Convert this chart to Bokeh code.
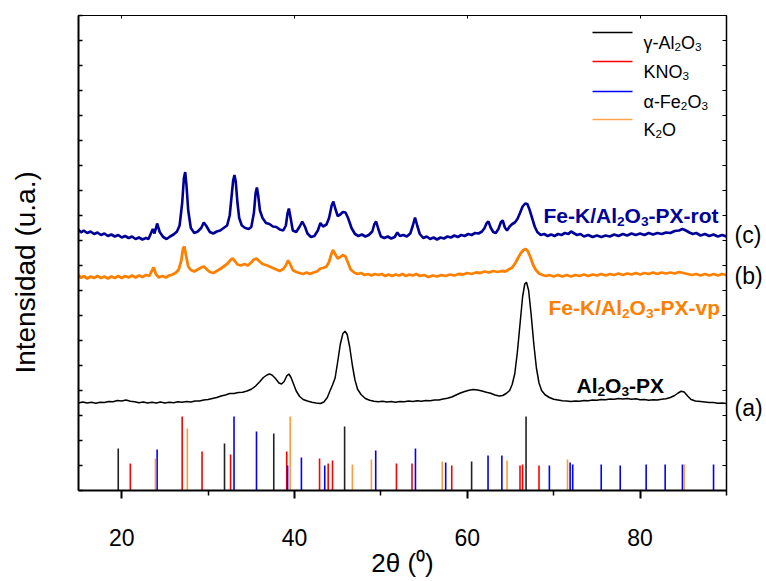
from bokeh.plotting import figure
from bokeh.models import Range1d, FixedTicker, LinearAxis, Label, CustomJSTickFormatter
from bokeh.embed import file_html
from bokeh.resources import INLINE

FONT = "Liberation Sans"

# ---------------- data ----------------
# (a) Al2O3-PX  (2theta, intensity a.u. offset)
curve_a = [(15.0,350),(15.5,354),(16.0,350),(16.5,353),(17.0,349),(17.5,353),(18.0,352),(18.5,356),(19.0,355),(19.5,360),(20.0,358),(20.5,362),(21.0,357),(21.5,355),(22.0,351),(22.5,354),(23.0,350),(23.5,353),(24.0,350),(24.5,354),(25.0,350),(25.5,353),(26.0,351),(26.5,355),(27.0,353),(27.5,356),(28.0,354),(28.5,358),(29.0,358),(29.5,362),(30.0,364),(30.5,368),(31.0,372),(31.5,378),(32.0,382),(32.5,388),(33.0,388),(33.5,392),(34.0,393),(34.5,398),(35.0,405),(35.5,418),(36.0,436),(36.4,452),(36.8,462),(37.1,466),(37.4,462),(37.8,448),(38.2,430),(38.5,426),(38.8,436),(39.1,458),(39.35,466),(39.6,452),(39.9,425),(40.2,398),(40.6,376),(41.0,364),(41.5,358),(42.0,353),(42.5,350),(43.0,348),(43.4,354),(43.8,372),(44.1,398),(44.4,422),(44.7,450),(45.0,515),(45.3,585),(45.6,628),(45.85,637),(46.1,624),(46.4,572),(46.7,500),(47.0,442),(47.3,405),(47.7,384),(48.2,368),(48.7,361),(49.2,357),(49.7,355),(50.2,357),(50.7,354),(51.2,356),(51.7,353),(52.2,356),(52.7,355),(53.2,358),(53.7,356),(54.2,359),(54.7,357),(55.2,360),(55.7,359),(56.2,362),(56.7,362),(57.2,366),(57.7,369),(58.2,374),(58.7,382),(59.2,390),(59.7,396),(60.2,401),(60.7,404),(61.2,402),(61.7,398),(62.2,393),(62.7,389),(63.2,382),(63.7,378),(64.1,380),(64.5,388),(64.9,400),(65.2,425),(65.5,468),(65.8,555),(66.1,665),(66.4,775),(66.65,826),(66.85,833),(67.1,800),(67.4,700),(67.7,585),(68.0,490),(68.3,430),(68.6,400),(69.0,383),(69.5,372),(70.0,365),(70.5,362),(71.0,359),(71.5,358),(72.0,356),(72.5,358),(73.0,357),(73.5,360),(74.0,359),(74.5,362),(75.0,361),(75.5,364),(76.0,363),(76.5,366),(77.0,365),(77.5,368),(78.0,366),(78.5,368),(79.0,365),(79.5,367),(80.0,363),(80.5,364),(81.0,361),(81.5,363),(82.0,362),(82.5,365),(83.0,367),(83.5,372),(84.0,380),(84.4,390),(84.75,397),(85.1,394),(85.5,378),(85.9,364),(86.4,358),(87.0,356),(87.5,354),(88.0,352),(88.5,352),(89.0,349),(89.5,350),(90.0,348)]

# (b) Fe-K/Al2O3-PX-vp
curve_b = [(15.0,862),(15.3,850),(15.6,858),(16.0,848),(16.4,856),(16.8,850),(17.2,858),(17.6,850),(18.0,856),(18.4,848),(18.8,856),(19.2,850),(19.6,858),(20.0,850),(20.4,858),(20.8,852),(21.2,860),(21.6,852),(22.0,860),(22.4,854),(22.8,862),(23.2,858),(23.45,876),(23.7,892),(23.95,866),(24.3,852),(24.7,858),(25.1,852),(25.5,860),(25.9,864),(26.3,872),(26.6,884),(26.9,920),(27.1,968),(27.25,976),(27.45,940),(27.7,896),(28.0,882),(28.4,876),(28.8,884),(29.2,892),(29.5,896),(29.8,886),(30.2,874),(30.6,870),(31.0,878),(31.4,886),(31.8,896),(32.2,906),(32.6,922),(32.85,928),(33.1,918),(33.4,904),(33.8,900),(34.2,906),(34.6,900),(35.0,912),(35.3,924),(35.6,928),(35.9,918),(36.3,906),(36.7,902),(37.1,896),(37.5,890),(37.9,884),(38.3,878),(38.7,886),(39.0,900),(39.25,920),(39.5,906),(39.8,882),(40.2,874),(40.6,870),(41.0,866),(41.4,872),(41.8,866),(42.2,872),(42.6,876),(43.0,888),(43.3,890),(43.7,896),(44.0,914),(44.25,944),(44.45,962),(44.7,946),(45.0,928),(45.3,934),(45.6,942),(45.9,936),(46.2,910),(46.5,884),(46.9,872),(47.3,866),(47.7,870),(48.1,862),(48.5,866),(48.9,860),(49.3,866),(49.7,862),(50.1,866),(50.5,858),(50.9,864),(51.3,858),(51.7,864),(52.1,860),(52.5,866),(52.9,858),(53.3,864),(53.7,860),(54.1,866),(54.5,858),(55.0,862),(55.5,854),(56.0,860),(56.5,856),(57.0,862),(57.5,858),(58.0,864),(58.5,860),(59.0,866),(59.5,864),(60.0,870),(60.5,866),(61.0,872),(61.5,870),(62.0,876),(62.5,872),(63.0,878),(63.5,874),(64.0,878),(64.4,876),(64.8,884),(65.2,892),(65.6,912),(65.9,932),(66.2,950),(66.5,962),(66.75,966),(67.0,958),(67.3,934),(67.6,904),(67.9,884),(68.3,868),(68.7,862),(69.1,858),(69.5,862),(70.0,856),(70.5,862),(71.0,856),(71.5,862),(72.0,856),(72.5,862),(73.0,858),(73.5,864),(74.0,858),(74.5,864),(75.0,860),(75.5,866),(76.0,860),(76.5,866),(77.0,862),(77.5,868),(78.0,862),(78.5,868),(79.0,864),(79.5,870),(80.0,864),(80.5,870),(81.0,866),(81.5,872),(82.0,866),(82.5,872),(83.0,868),(83.5,872),(84.0,868),(84.5,874),(85.0,870),(85.5,866),(86.0,862),(86.5,866),(87.0,860),(87.5,866),(88.0,860),(88.5,866),(89.0,860),(89.5,866),(90.0,862)]

# (c) Fe-K/Al2O3-PX-rot
curve_c = [(15.0,1044),(15.3,1032),(15.6,1040),(16.0,1030),(16.4,1036),(16.8,1026),(17.2,1032),(17.6,1022),(18.0,1028),(18.4,1018),(18.8,1024),(19.2,1016),(19.6,1022),(20.0,1012),(20.4,1018),(20.8,1010),(21.2,1016),(21.6,1006),(22.0,1012),(22.4,1004),(22.8,1010),(23.1,1006),(23.4,1030),(23.6,1046),(23.8,1028),(24.1,1068),(24.4,1034),(24.8,1014),(25.2,1006),(25.6,1016),(26.0,1024),(26.4,1036),(26.7,1060),(27.0,1150),(27.2,1250),(27.35,1274),(27.5,1220),(27.7,1120),(28.0,1050),(28.4,1030),(28.8,1036),(29.2,1050),(29.5,1072),(29.8,1058),(30.2,1034),(30.6,1028),(31.0,1036),(31.4,1040),(31.8,1050),(32.2,1060),(32.5,1100),(32.7,1170),(32.9,1240),(33.05,1262),(33.2,1236),(33.4,1150),(33.6,1090),(33.9,1060),(34.3,1050),(34.7,1046),(35.0,1054),(35.3,1110),(35.5,1190),(35.65,1212),(35.8,1180),(36.0,1120),(36.3,1090),(36.7,1070),(37.1,1066),(37.5,1056),(37.9,1054),(38.3,1044),(38.7,1040),(39.0,1060),(39.2,1110),(39.35,1128),(39.55,1090),(39.8,1040),(40.2,1034),(40.6,1056),(40.9,1076),(41.2,1056),(41.5,1028),(41.9,1014),(42.3,1018),(42.7,1040),(43.0,1070),(43.3,1056),(43.7,1064),(44.0,1090),(44.3,1140),(44.5,1156),(44.7,1130),(45.0,1098),(45.3,1104),(45.6,1114),(45.9,1112),(46.2,1090),(46.6,1050),(47.0,1026),(47.4,1018),(47.8,1024),(48.2,1016),(48.6,1022),(49.0,1036),(49.25,1066),(49.45,1076),(49.7,1046),(50.0,1016),(50.4,1010),(50.8,1016),(51.2,1008),(51.6,1014),(51.9,1032),(52.2,1018),(52.6,1022),(53.0,1016),(53.4,1028),(53.7,1060),(53.95,1092),(54.2,1060),(54.5,1026),(54.9,1010),(55.3,1016),(55.7,1006),(56.1,1012),(56.5,1004),(56.9,1012),(57.3,1008),(57.7,1016),(58.1,1012),(58.5,1020),(58.9,1014),(59.3,1022),(59.7,1018),(60.1,1026),(60.5,1022),(60.9,1030),(61.3,1028),(61.7,1036),(62.0,1050),(62.25,1070),(62.45,1076),(62.7,1052),(63.0,1034),(63.3,1030),(63.6,1046),(63.9,1074),(64.1,1080),(64.35,1052),(64.6,1040),(64.9,1056),(65.2,1066),(65.5,1072),(65.8,1086),(66.1,1110),(66.4,1136),(66.7,1148),(66.95,1146),(67.2,1124),(67.5,1090),(67.8,1056),(68.1,1034),(68.5,1022),(68.9,1026),(69.3,1018),(69.7,1024),(70.1,1018),(70.5,1026),(70.9,1022),(71.3,1030),(71.7,1026),(72.0,1036),(72.3,1030),(72.7,1022),(73.1,1026),(73.5,1016),(74.0,1022),(74.5,1014),(75.0,1020),(75.5,1014),(76.0,1020),(76.5,1016),(77.0,1024),(77.5,1018),(78.0,1026),(78.5,1020),(79.0,1028),(79.5,1022),(80.0,1028),(80.5,1022),(81.0,1030),(81.5,1024),(82.0,1030),(82.5,1026),(83.0,1032),(83.5,1030),(84.0,1038),(84.5,1040),(84.9,1046),(85.3,1040),(85.7,1032),(86.1,1026),(86.5,1030),(87.0,1020),(87.5,1026),(88.0,1018),(88.5,1024),(89.0,1016),(89.5,1022),(90.0,1016)]

# reference patterns (stick positions and relative heights)
al2o3_pos = [19.6, 31.9, 37.6, 45.8, 60.5, 66.8]
al2o3_h = [168, 188, 228, 256, 116, 296]
kno3_pos = [21.0, 27.0, 29.3, 32.6, 39.1, 42.9, 43.9, 44.4, 51.8, 53.6, 58.2, 66.1, 66.4, 68.3]
kno3_h = [108, 296, 156, 144, 156, 128, 108, 120, 108, 108, 100, 100, 104, 100]
fe2o3_pos = [24.1, 33.0, 35.6, 39.2, 40.8, 43.5, 49.4, 54.0, 57.5, 62.4, 64.0, 69.5, 71.9, 72.2, 75.5, 77.7, 80.7, 82.9, 84.9, 88.5]
fe2o3_h = [164, 296, 236, 100, 132, 100, 160, 168, 112, 140, 140, 100, 112, 104, 104, 100, 104, 104, 104, 104]
k2o_pos = [23.9, 27.6, 39.5, 46.7, 48.9, 57.1, 64.6, 71.6, 85.1]
k2o_h = [128, 248, 296, 104, 124, 116, 120, 124, 104]

x_major = [20, 40, 60, 80]
x_minor = [30, 50, 70, 90]
y_ticks = list(range(0, 2000, 100))
curve_tags = {332: "(a)", 860: "(b)", 1024: "(c)"}

C_BLACK = "#000000"
C_RED = "#ff0000"
C_BLUE = "#0000ff"
C_ORANGE = "#ff9a3c"
C_NAVY = "#000099"
C_CURVE_OR = "#ff8000"

# ---------------- figure ----------------
W, H = 766, 581
p = figure(width=W, height=H, output_backend="svg", toolbar_location=None,
           x_range=Range1d(15, 90), y_range=Range1d(0, 1900),
           min_border_left=78, min_border_right=40, min_border_top=15, min_border_bottom=91)
p.background_fill_color = "white"
p.border_fill_color = "white"
p.xgrid.visible = False
p.ygrid.visible = False
p.outline_line_color = "black"
p.outline_line_width = 1

blank = CustomJSTickFormatter(code="return ''")

xa = p.xaxis[0]
xa.ticker = FixedTicker(ticks=x_major, minor_ticks=x_minor)
xa.major_tick_out = 8
xa.major_tick_in = 0
xa.minor_tick_out = 5
xa.minor_tick_in = 0
xa.axis_line_width = 2
xa.major_tick_line_width = 2
xa.minor_tick_line_width = 1.5
xa.major_label_text_font = FONT
xa.major_label_text_font_size = "23px"
xa.major_label_text_color = "black"
xa.major_label_standoff = 30
xa.axis_label = "2θ (⁰)"
xa.axis_label_text_font = FONT
xa.axis_label_text_font_size = "26px"
xa.axis_label_text_font_style = "normal"
xa.axis_label_text_color = "black"
xa.axis_label_standoff = -1

ya = p.yaxis[0]
ya.ticker = FixedTicker(ticks=y_ticks, minor_ticks=[])
ya.formatter = blank
ya.major_tick_in = 4
ya.major_tick_out = 0
ya.axis_line_width = 2
ya.major_tick_line_width = 1.5
ya.major_label_standoff = 0
ya.axis_label = "Intensidad (u.a.)\u00a0\u00a0\u00a0\u00a0\u00a0"
ya.axis_label_text_font = FONT
ya.axis_label_text_font_size = "28px"
ya.axis_label_text_font_style = "normal"
ya.axis_label_text_color = "black"
ya.axis_label_standoff = 38

ra = LinearAxis(ticker=FixedTicker(ticks=y_ticks, minor_ticks=[]), formatter=blank,
                major_tick_in=4, major_tick_out=0, axis_line_width=1.5,
                major_label_standoff=0, major_tick_line_width=1.2)
p.add_layout(ra, "right")
tag_axis = LinearAxis(ticker=FixedTicker(ticks=list(curve_tags.keys()), minor_ticks=[]),
                      major_label_overrides=curve_tags, axis_line_color=None,
                      major_tick_line_color=None, minor_tick_line_color=None,
                      major_tick_in=0, major_tick_out=0, major_label_standoff=8,
                      major_label_text_font=FONT, major_label_text_font_size="23px",
                      major_label_text_color="black")
p.add_layout(tag_axis, "right")
ta = LinearAxis(ticker=FixedTicker(ticks=x_major, minor_ticks=[]), formatter=blank,
                major_tick_in=3, major_tick_out=0, axis_line_width=1,
                major_label_standoff=0, minor_tick_in=0, minor_tick_out=0)
p.add_layout(ta, "above")

# sticks
for pos, h, col in [(al2o3_pos, al2o3_h, "#222222"), (kno3_pos, kno3_h, C_RED),
                    (fe2o3_pos, fe2o3_h, C_BLUE), (k2o_pos, k2o_h, C_ORANGE)]:
    p.segment(x0=pos, y0=[0]*len(pos), x1=pos, y1=h, line_color=col, line_width=1.6)

# curves
for data, col, lw in [(curve_a, C_BLACK, 1.5), (curve_b, C_CURVE_OR, 2.8), (curve_c, C_NAVY, 2.6)]:
    xs = [d[0] for d in data]
    ys = [d[1] for d in data]
    p.line(xs, ys, line_color=col, line_width=lw)

# -------- text helpers (Arial metrics) --------
REG = {'γ':500,'α':578,'-':333,'A':667,'l':222,'O':778,'K':667,'N':722,'F':611,'e':556,
       '2':556,'3':556,'θ':556,' ':278,'(':333,')':333,'o':556}
BOLD = {'F':611,'e':556,'-':333,'K':722,'/':278,'A':722,'l':278,'O':778,'P':667,'X':667,
        'r':389,'o':611,'t':333,'v':556,'p':611,'2':556,'3':556}
Y_PER_PX = 1900 / 475.0

def tw(s, size, bold):
    tab = BOLD if bold else REG
    return sum(tab.get(c, 556) for c in s) / 1000.0 * size

def rich(x, y, pieces, size, color, bold=False):
    off = 0.0
    for txt, kind in pieces:
        if kind == 0:
            sz, yy = size, y
        else:
            sz, yy = size * 0.65, y - 0.27 * size * Y_PER_PX
        p.add_layout(Label(x=x, y=yy, x_offset=off, text=txt, text_font=FONT,
                           text_font_size=f"{sz:.1f}px",
                           text_font_style="bold" if bold else "normal",
                           text_color=color, text_baseline="alphabetic", text_align="left"))
        off += tw(txt, sz, bold)

# sample labels
rich(68.82, 1100, [("Fe-K/Al", 0), ("2", 1), ("O", 0), ("3", 1), ("-PX-rot", 0)], 21, C_NAVY, True)
rich(69.40, 732, [("Fe-K/Al", 0), ("2", 1), ("O", 0), ("3", 1), ("-PX-vp", 0)], 21, C_CURVE_OR, True)
rich(72.64, 420, [("Al", 0), ("2", 1), ("O", 0), ("3", 1), ("-PX", 0)], 21, C_BLACK, True)

# legend
leg_items = [
    ([("γ-Al", 0), ("2", 1), ("O", 0), ("3", 1)], "#000000", 1832),
    ([("KNO", 0), ("3", 1)], C_RED, 1716),
    ([("α-Fe", 0), ("2", 1), ("O", 0), ("3", 1)], C_BLUE, 1596),
    ([("K", 0), ("2", 1), ("O", 0)], "#ffa64d", 1484),
]
for pieces, col, yv in leg_items:
    p.segment(x0=[74.49], y0=[yv], x1=[79.12], y1=[yv], line_color=col, line_width=1.6)
    rich(80.39, yv - 10 * Y_PER_PX, pieces, 18, "black", False)

open("out.html", "w").write(file_html(p, INLINE))
